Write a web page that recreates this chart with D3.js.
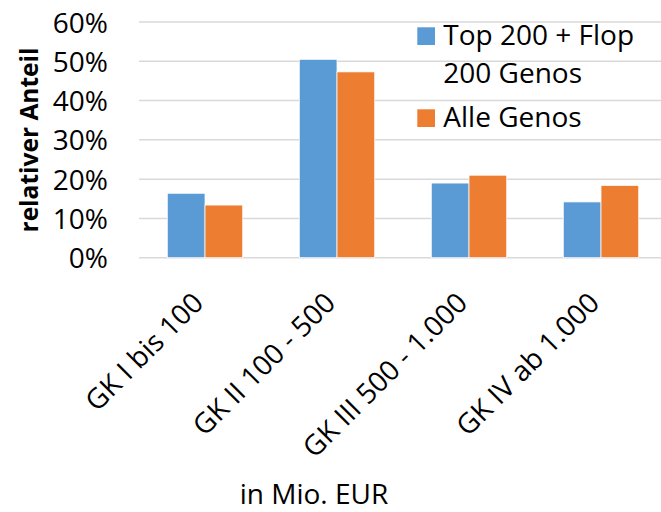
<!DOCTYPE html>
<html>
<head>
<meta charset="utf-8">
<script src="https://cdn.jsdelivr.net/npm/d3@7"></script>
<style>
  html, body { margin: 0; padding: 0; background: #fff; }
  svg { display: block; font-family: "Open Sans", sans-serif; }
</style>
</head>
<body>
<svg id="chart" width="661" height="512"></svg>
<script>
// Größenklassen (Bilanzsumme in Mio. EUR)
const categories = ["GK I bis 100", "GK II 100 - 500", "GK III 500 - 1.000", "GK IV ab 1.000"];
const seriesNames = ["Top 200 + Flop 200 Genos", "Alle Genos"];
const topFlop = [0.164, 0.505, 0.190, 0.142];
const alleGenos = [0.134, 0.473, 0.210, 0.184];
const yTicks = [0, 0.1, 0.2, 0.3, 0.4, 0.5, 0.6];
const colors = ["#5B9BD5", "#ED7D31"];

const rows = categories.map((c, i) => ({ cat: c, values: [topFlop[i], alleGenos[i]] }));

const FONT = "'Open Sans', sans-serif";
const FS = 28;
const svg = d3.select("#chart");
const plotLeft = 139, plotRight = 667, plotTop = 22, y0 = 257.7;

const x = d3.scaleBand().domain(categories).range([plotLeft, plotRight]);
// Zwei Balken je Gruppe, Abstand 150 % der Balkenbreite
const inner = d3.scaleBand().domain([0, 1]).range([0, x.bandwidth()]).paddingInner(0).paddingOuter(0.75);
const y = d3.scaleLinear().domain([0, 0.6]).range([y0, plotTop]);

// Gitternetzlinien
svg.append("g")
  .selectAll("line")
  .data(yTicks)
  .join("line")
  .attr("x1", plotLeft)
  .attr("x2", plotRight)
  .attr("y1", d => y(d))
  .attr("y2", d => y(d))
  .attr("stroke", "#D9D9D9")
  .attr("stroke-width", 1.5);

// Y-Achse (nur Beschriftungen)
const yAxis = d3.axisLeft(y).tickValues(yTicks).tickFormat(d3.format(".0%")).tickSize(0).tickPadding(0);
const gy = svg.append("g").attr("transform", "translate(108,0)").call(yAxis);
gy.select(".domain").remove();
gy.selectAll("text")
  .attr("font-family", FONT)
  .attr("font-size", FS)
  .attr("fill", "#000")
  .attr("dy", "0.36em");

// Balken
const groups = svg.append("g")
  .selectAll("g")
  .data(rows)
  .join("g")
  .attr("transform", d => `translate(${x(d.cat)},0)`);

groups.selectAll("rect")
  .data(d => d.values.map((v, i) => ({ v, i })))
  .join("rect")
  .attr("x", d => inner(d.i))
  .attr("width", inner.bandwidth())
  .attr("y", d => y(d.v))
  .attr("height", d => y0 - y(d.v))
  .attr("fill", d => colors[d.i])
  .attr("stroke", "#fff")
  .attr("stroke-width", 0.75);

// X-Achse: gedrehte Kategorienbeschriftungen
const xAxis = d3.axisBottom(x).tickSize(0).tickPadding(0);
const gx = svg.append("g").attr("transform", `translate(0,${y0})`).call(xAxis);
gx.select(".domain").remove();
gx.selectAll("text")
  .attr("font-family", FONT)
  .attr("font-size", FS)
  .attr("fill", "#000")
  .attr("text-anchor", "end")
  .attr("dy", null)
  .attr("y", null)
  .attr("transform", "translate(0,47) rotate(-45)");

// Achsentitel
svg.append("text")
  .attr("transform", "translate(38,140) rotate(-90)")
  .attr("text-anchor", "middle")
  .attr("font-family", FONT)
  .attr("font-size", 24.5)
  .attr("font-weight", "bold")
  .attr("fill", "#000")
  .text("relativer Anteil");

svg.append("text")
  .attr("x", 314)
  .attr("y", 504)
  .attr("text-anchor", "middle")
  .attr("font-family", FONT)
  .attr("font-size", FS)
  .attr("fill", "#000")
  .text("in Mio. EUR");

// Legende
const legend = svg.append("g");
const legendItems = [
  { lines: ["Top 200 + Flop", "200 Genos"], color: colors[0], top: 27.3, baselines: [45, 83.3] },
  { lines: ["Alle Genos"], color: colors[1], top: 109.3, baselines: [127] }
];
legendItems.forEach(item => {
  legend.append("rect")
    .attr("x", 417.3)
    .attr("y", item.top)
    .attr("width", 17.7)
    .attr("height", 17.7)
    .attr("fill", item.color);
  item.lines.forEach((line, k) => {
    legend.append("text")
      .attr("x", 443.3)
      .attr("y", item.baselines[k])
      .attr("font-family", FONT)
      .attr("font-size", FS)
      .attr("fill", "#000")
      .text(line);
  });
});
</script>
</body>
</html>
